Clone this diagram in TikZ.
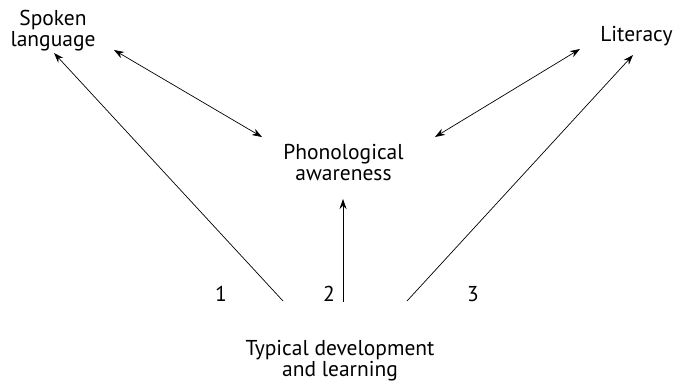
\documentclass[tikz,border=0pt]{standalone}
\usepackage{fontspec}
\setmainfont{PT Sans}
\usetikzlibrary{arrows.meta}
\begin{document}
\begin{tikzpicture}[x=1pt,y=-1pt,
  lbl/.style={align=center,font=\fontsize{21.5}{21}\selectfont,inner sep=0pt},
  num/.style={font=\fontsize{21.5}{21}\selectfont,inner sep=0pt},
  link/.style={line width=0.7pt,-{Stealth[length=10pt,width=7pt]}},
  twoway/.style={line width=0.7pt,{Stealth[length=10pt,width=7pt]}-{Stealth[length=10pt,width=7pt]}}]
\useasboundingbox (0,0) rectangle (674,383);
% concept labels
\node[lbl] (spoken) at (53,31) {Spoken\\language};
\node[lbl] (lit) at (636.5,36) {Literacy};
\node[lbl] (phon) at (343.5,162.5) {Phonological\\awareness};
\node[lbl] (typ) at (340,361) {Typical development\\and learning};
% path numbers
\node[num] (n1) at (221,294) {1};
\node[num] (n2) at (329,294) {2};
\node[num] (n3) at (473,294) {3};
% arrow end points
\coordinate (s1) at (283,301);
\coordinate (s2) at (343,302);
\coordinate (s3) at (407,301);
\coordinate (t1) at (54,53);
\coordinate (t2) at (343,199);
\coordinate (t3) at (633,55);
\coordinate (sp) at (114,50);
\coordinate (pl) at (262,137);
\coordinate (pr) at (435,137);
\coordinate (lt) at (580,49);
% influences
\draw[link] (s1) -- (t1);
\draw[link] (s2) -- (t2);
\draw[link] (s3) -- (t3);
\draw[twoway] (sp) -- (pl);
\draw[twoway] (pr) -- (lt);
\end{tikzpicture}
\end{document}
